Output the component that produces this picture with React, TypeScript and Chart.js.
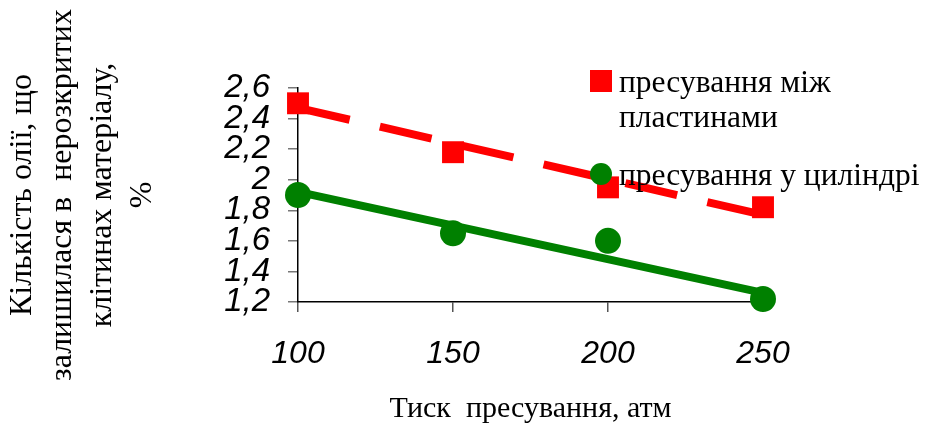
import React, { useEffect, useRef } from 'react';
import { Chart, registerables } from 'chart.js';

Chart.register(...registerables);

// ---- data ----
const pressures = [100, 150, 200, 250];
const platesValues = [2.5, 2.18, 1.95, 1.82];
const cylinderValues = [1.9, 1.65, 1.6, 1.22];
const trendX = [100, 250];
const platesTrend = [2.47, 1.77];
const cylinderTrend = [1.92, 1.26];
const yTickValues = [1.2, 1.4, 1.6, 1.8, 2.0, 2.2, 2.4, 2.6];
const xTickValues = [100, 150, 200, 250];
const platesLegend = ['пресування між', 'пластинами'];
const cylinderLegend = ['пресування у циліндрі'];
const xTitle = 'Тиск  пресування, атм';
const yTitle = ['Кількість олії, що', 'залишилася в  нерозкритих', 'клітинах матеріалу,', '%'];

const RED = '#ff0000';
const GREEN = '#008000';
const SERIF = '"Liberation Serif", "Times New Roman", serif';
const SANS = '"Liberation Sans", Arial, sans-serif';

const legendPlugin = {
  id: 'customLegend',
  afterDraw(chart: any) {
    const ctx = chart.ctx as CanvasRenderingContext2D;
    ctx.save();
    ctx.fillStyle = RED;
    ctx.fillRect(590, 70, 22, 22);
    ctx.fillStyle = GREEN;
    ctx.beginPath();
    ctx.arc(601, 174, 11, 0, Math.PI * 2);
    ctx.fill();
    ctx.fillStyle = '#000';
    ctx.font = `31.5px ${SERIF}`;
    ctx.textBaseline = 'alphabetic';
    ctx.textAlign = 'left';
    platesLegend.forEach((t, i) => ctx.fillText(t, 619, 92 + i * 35));
    cylinderLegend.forEach((t, i) => ctx.fillText(t, 619, 185 + i * 35));
    ctx.restore();
  },
};

const fmt = (v: number) => String(Math.round(v * 10) / 10).replace('.', ',');

export default function App() {
  const ref = useRef<HTMLCanvasElement | null>(null);
  useEffect(() => {
    if (!ref.current) return;
    const chart = new Chart(ref.current, {
      type: 'scatter',
      data: {
        datasets: [
          {
            label: 'plates',
            data: pressures.map((x, i) => ({ x, y: platesValues[i] })),
            pointStyle: 'rect',
            pointRadius: 15.5,
            pointHoverRadius: 15.5,
            pointBackgroundColor: RED,
            pointBorderWidth: 0,
            backgroundColor: RED,
            borderColor: RED,
            showLine: false,
            clip: false,
          },
          {
            label: 'cylinder',
            data: pressures.map((x, i) => ({ x, y: cylinderValues[i] })),
            pointStyle: 'circle',
            pointRadius: 13,
            pointHoverRadius: 13,
            pointBackgroundColor: GREEN,
            pointBorderWidth: 0,
            backgroundColor: GREEN,
            borderColor: GREEN,
            showLine: false,
            clip: false,
          },
          {
            label: 'plates trend',
            data: trendX.map((x, i) => ({ x, y: platesTrend[i] })),
            showLine: true,
            borderColor: RED,
            borderWidth: 8,
            borderDash: [53, 31],
            borderCapStyle: 'butt',
            pointRadius: 0,
            clip: false,
          },
          {
            label: 'cylinder trend',
            data: trendX.map((x, i) => ({ x, y: cylinderTrend[i] })),
            showLine: true,
            borderColor: GREEN,
            borderWidth: 8,
            pointRadius: 0,
            clip: false,
          },
        ] as any,
      },
      options: {
        animation: false,
        responsive: true,
        maintainAspectRatio: false,
        layout: { padding: { top: 88, right: 162, left: 0, bottom: 0 } },
        plugins: { legend: { display: false }, tooltip: { enabled: false } },
        scales: {
          x: {
            type: 'linear',
            min: 100,
            max: 250,
            afterFit: (s: any) => { s.height = 122; },
            afterBuildTicks: (s: any) => { s.ticks = xTickValues.map((v) => ({ value: v })); },
            ticks: {
              color: '#000',
              padding: 23,
              font: { family: SANS, size: 32, style: 'italic' },
              callback: (v: any) => String(v),
            },
            grid: { display: true, drawOnChartArea: false, drawTicks: true, tickLength: 10, color: '#555', lineWidth: 1.5 },
            border: { display: true, color: '#000', width: 1.5 },
            title: {
              display: true,
              text: xTitle,
              color: '#000',
              font: { family: SERIF, size: 30, lineHeight: 1.0 },
              padding: { top: 0, bottom: 0 },
            },
          },
          y: {
            type: 'linear',
            min: 1.2,
            max: 2.6,
            afterFit: (s: any) => { s.width = 298; },
            afterBuildTicks: (s: any) => { s.ticks = yTickValues.map((v) => ({ value: v })); },
            ticks: {
              color: '#000',
              padding: 18,
              autoSkip: false,
              font: { family: SANS, size: 33, style: 'italic' },
              callback: (v: any) => fmt(Number(v)),
            },
            grid: { display: true, drawOnChartArea: false, drawTicks: true, tickLength: 10, color: '#777', lineWidth: 1.5 },
            border: { display: true, color: '#000', width: 1.5 },
            title: {
              display: true,
              text: yTitle,
              color: '#000',
              font: { family: SERIF, size: 32, lineHeight: 1.25 },
              padding: { top: 3, bottom: 0 },
            },
          },
        },
      } as any,
      plugins: [legendPlugin],
    });
    return () => chart.destroy();
  }, []);

  return (
    <div style={{ position: 'fixed', left: 0, top: 0, width: 925, height: 424, background: '#fff' }}>
      <canvas ref={ref} />
    </div>
  );
}
